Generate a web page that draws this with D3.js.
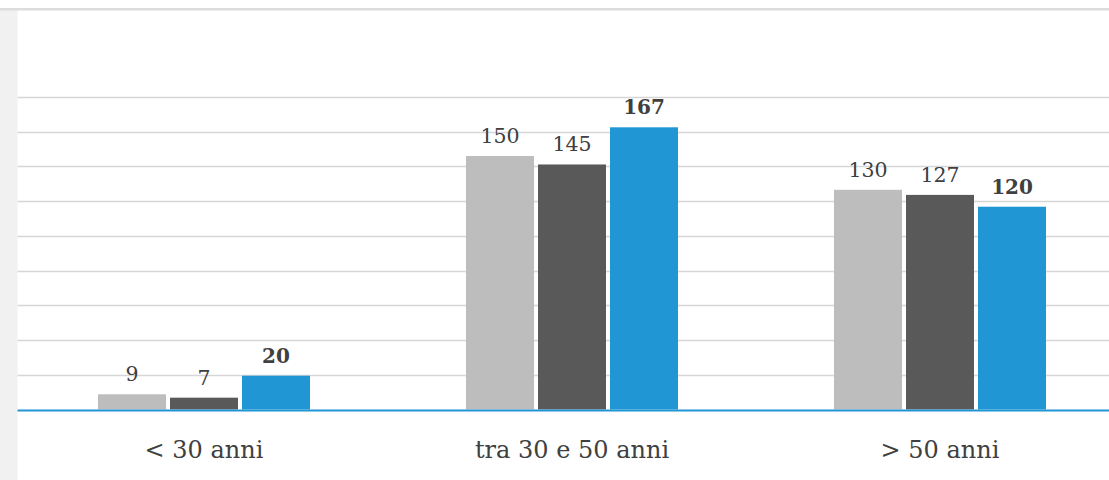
<!DOCTYPE html>
<html>
<head>
<meta charset="utf-8">
<script src="https://cdn.jsdelivr.net/npm/d3@7"></script>
<style>
  html, body { margin: 0; padding: 0; background: #fff; }
  svg { display: block; }
</style>
</head>
<body>
<svg id="chart" width="1109" height="480"></svg>
<script>
const categories = ["< 30 anni", "tra 30 e 50 anni", "> 50 anni"];
const seriesNames = ["s1", "s2", "s3"];
const series1 = [9, 150, 130];
const series2 = [7, 145, 127];
const series3 = [20, 167, 120];
const seriesColors = ["#bdbdbd", "#595959", "#2196d5"];
const seriesBold = [false, false, true];
const gridCount = 9;

const W = 1109, H = 480;
const svg = d3.select("#chart");
const fontFamily = "'Roboto Slab', 'DejaVu Serif', serif";

// background pieces
svg.append("rect").attr("x", 0).attr("y", 0).attr("width", W).attr("height", H).attr("fill", "#fff");
svg.append("rect").attr("x", 0).attr("y", 10).attr("width", 17.5).attr("height", H - 10).attr("fill", "#f1f1f1");
svg.append("rect").attr("x", 0).attr("y", 8).attr("width", W).attr("height", 2.5).attr("fill", "#dcdcdc");

const baseY = 409.5;
const y = d3.scaleLinear().domain([0, 167]).range([baseY, 127.3]);
const gridScale = d3.scaleLinear().domain([0, gridCount]).range([baseY, 97]);

const x0 = d3.scaleBand().domain(categories).range([20, 1124]).paddingInner(0).paddingOuter(0);
const groupSpan = 212;
const x1 = d3.scaleBand().domain(seriesNames).range([0, groupSpan]).paddingInner(4 / 72).paddingOuter(0);

// gridlines
svg.append("g").selectAll("line")
  .data(d3.range(1, gridCount + 1))
  .join("line")
  .attr("x1", 17.5).attr("x2", W)
  .attr("y1", d => Math.round(gridScale(d)) + 0.5)
  .attr("y2", d => Math.round(gridScale(d)) + 0.5)
  .attr("stroke", "#d6d6d6").attr("stroke-width", 1.5);

const allSeries = [series1, series2, series3];
const rows = [];
categories.forEach((c, i) => {
  seriesNames.forEach((s, j) => {
    rows.push({ cat: c, s, v: allSeries[j][i], color: seriesColors[j], bold: seriesBold[j] });
  });
});

const gx = c => x0(c) + x0.bandwidth() / 2 - groupSpan / 2;

svg.append("g").selectAll("rect")
  .data(rows)
  .join("rect")
  .attr("x", d => gx(d.cat) + x1(d.s))
  .attr("width", x1.bandwidth())
  .attr("y", d => y(d.v))
  .attr("height", d => baseY - y(d.v))
  .attr("fill", d => d.color);

svg.append("g").selectAll("text")
  .data(rows)
  .join("text")
  .attr("x", d => gx(d.cat) + x1(d.s) + x1.bandwidth() / 2)
  .attr("y", d => y(d.v) - 13)
  .attr("text-anchor", "middle")
  .attr("font-family", fontFamily)
  .attr("font-size", d => d.bold ? 20 : 20.5)
  .attr("font-weight", d => d.bold ? "bold" : "normal")
  .attr("fill", "#404040")
  .text(d => d.v);

// baseline
svg.append("rect").attr("x", 17.5).attr("y", baseY).attr("width", W - 17.5).attr("height", 2).attr("fill", "#2196d5");

// category axis
const xAxis = d3.axisBottom(x0).tickSize(0).tickPadding(0);
const ax = svg.append("g").attr("transform", `translate(0, ${baseY})`).call(xAxis);
ax.select(".domain").remove();
ax.selectAll("text")
  .attr("dy", 0)
  .attr("y", 48.5)
  .attr("font-family", fontFamily)
  .attr("font-size", 24)
  .attr("fill", "#404040");
</script>
</body>
</html>
